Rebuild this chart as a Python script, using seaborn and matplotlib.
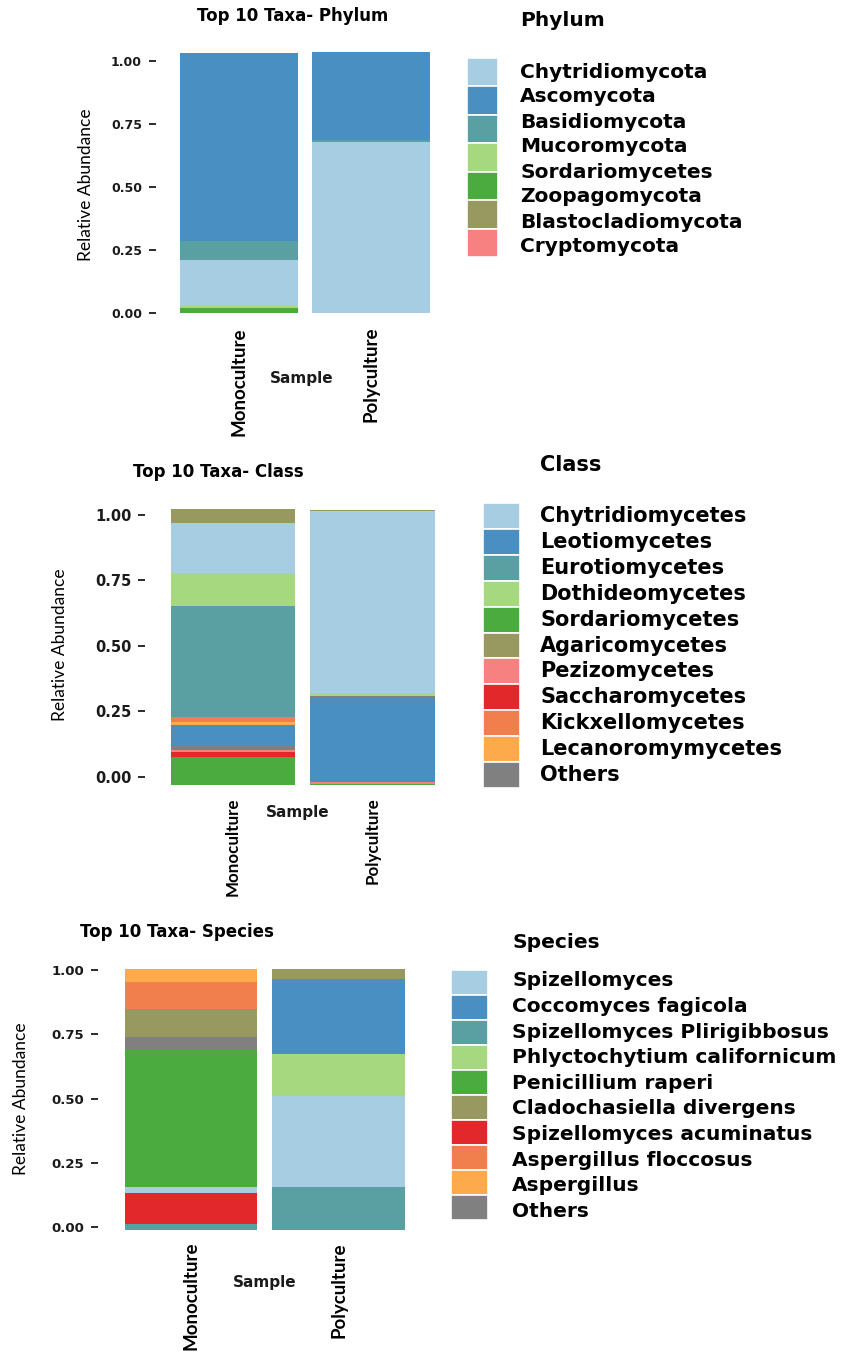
import matplotlib
matplotlib.use("Agg")
import matplotlib.pyplot as plt
import seaborn as sns
import numpy as np
import pandas as pd
from matplotlib.patches import Rectangle
from matplotlib import font_manager as fm

# ---------------- DATA ----------------
SAMPLES = ["Monoculture", "Polyculture"]

# Phylum (stack order bottom -> top)
PHYLUM_MONO_TAXA = ["Zoopagomycota", "Mucoromycota", "Chytridiomycota", "Basidiomycota", "Ascomycota"]
PHYLUM_MONO_VALUES = [0.018, 0.009, 0.183, 0.075, 0.747]
PHYLUM_POLY_TAXA = ["Chytridiomycota", "Basidiomycota", "Ascomycota"]
PHYLUM_POLY_VALUES = [0.680, 0.006, 0.349]
PHYLUM_LEGEND_LABELS = ["Chytridiomycota", "Ascomycota", "Basidiomycota", "Mucoromycota",
                        "Sordariomycetes", "Zoopagomycota", "Blastocladiomycota", "Cryptomycota"]
PHYLUM_SWATCH_TAXA = ["Chytridiomycota", "Ascomycota", "Basidiomycota", "Mucoromycota",
                      "Zoopagomycota", "Blastocladiomycota", "Cryptomycota"]

# Class
CLASS_TAXA = ["Chytridiomycetes", "Leotiomycetes", "Eurotiomycetes", "Dothideomycetes",
              "Sordariomycetes", "Agaricomycetes", "Pezizomycetes", "Saccharomycetes",
              "Kickxellomycetes", "Lecanoromymycetes", "Others"]
CLASS_MONO_TAXA = ["Sordariomycetes", "Saccharomycetes", "Pezizomycetes", "Others", "Leotiomycetes",
                   "Lecanoromymycetes", "Kickxellomycetes", "Eurotiomycetes", "Dothideomycetes",
                   "Chytridiomycetes", "Agaricomycetes"]
CLASS_MONO_VALUES = [0.108, 0.017, 0.009, 0.019, 0.076, 0.013, 0.017, 0.425, 0.125, 0.194, 0.051]
CLASS_POLY_TAXA = ["Sordariomycetes", "Pezizomycetes", "Leotiomycetes", "Others",
                   "Dothideomycetes", "Chytridiomycetes", "Agaricomycetes"]
CLASS_POLY_VALUES = [0.003, 0.007, 0.321, 0.009, 0.010, 0.697, 0.006]

# Species
SPECIES_TAXA = ["Spizellomyces", "Coccomyces fagicola", "Spizellomyces Plirigibbosus",
                "Phlyctochytium californicum", "Penicillium raperi", "Cladochasiella divergens",
                "Spizellomyces acuminatus", "Aspergillus floccosus", "Aspergillus", "Others"]
SPECIES_MONO_TAXA = ["Spizellomyces Plirigibbosus", "Spizellomyces acuminatus", "Spizellomyces",
                     "Penicillium raperi", "Others", "Cladochasiella divergens",
                     "Aspergillus floccosus", "Aspergillus"]
SPECIES_MONO_VALUES = [0.023, 0.122, 0.023, 0.531, 0.052, 0.106, 0.105, 0.050]
SPECIES_POLY_TAXA = ["Spizellomyces Plirigibbosus", "Spizellomyces", "Phlyctochytium californicum",
                     "Coccomyces fagicola", "Cladochasiella divergens"]
SPECIES_POLY_VALUES = [0.165, 0.354, 0.165, 0.291, 0.039]

YTICKS = [0.0, 0.25, 0.50, 0.75, 1.00]
YTICK_LABELS = ["0.00", "0.25", "0.50", "0.75", "1.00"]

# ---------------- STYLE ----------------
LB, BL, TE, LG, GR = "#a6cde2", "#4a8fc2", "#5a9fa1", "#a6d880", "#4cab3e"
OL, PK, RD, OR, LO, GY = "#979960", "#f78180", "#e3282b", "#f17f4d", "#fdaa4c", "#808080"

PHYLUM_COLORS = {"Chytridiomycota": LB, "Ascomycota": BL, "Basidiomycota": TE, "Mucoromycota": LG,
                 "Zoopagomycota": GR, "Blastocladiomycota": OL, "Cryptomycota": PK}
CLASS_COLORS = dict(zip(CLASS_TAXA, [LB, BL, TE, LG, GR, OL, PK, RD, OR, LO, GY]))
SPECIES_COLORS = dict(zip(SPECIES_TAXA, [LB, BL, TE, LG, GR, OL, RD, OR, LO, GY]))

sns.set_theme(style="white")
plt.rcParams["font.family"] = ["DejaVu Sans"]

names = {f.name for f in fm.fontManager.ttflist}
if "Liberation Sans Narrow" in names:
    NARROW = "Liberation Sans Narrow"
    YLAB_FS, XT_FS = 14, 15.5
else:
    NARROW = "Lato"
    YLAB_FS, XT_FS = 12.5, 13.5

W, H = 848, 1354
fig = plt.figure(figsize=(W / 100, H / 100), dpi=100)
ov = fig.add_axes([0, 0, 1, 1], zorder=-1)
ov.set_xlim(0, W)
ov.set_ylim(H, 0)
ov.axis("off")

XPAD = 0.63


def make_axes(c0, c1, p0, p1, ylim):
    s = c1 - c0
    left, right = c0 - XPAD * s, c1 + XPAD * s
    u = p0 - p1
    bottom = p0 - ylim[0] * u
    top = p0 - ylim[1] * u
    ax = fig.add_axes([left / W, 1 - bottom / H, (right - left) / W, (bottom - top) / H])
    return ax, (left, top, right, bottom)


def panel(cfg, stacks, colors):
    ax, (l, t, r, b) = make_axes(cfg["c0"], cfg["c1"], cfg["p0"], cfg["p1"], cfg["ylim"])
    for sample, (taxa, vals) in zip(SAMPLES, stacks):
        bottom = cfg["baseline"]
        for tx, v in zip(taxa, vals):
            sns.barplot(x=[sample], y=[v], order=SAMPLES, color=colors[tx], saturation=1,
                        width=cfg["width"], bottom=bottom, ax=ax, linewidth=0, errorbar=None)
            bottom += v
    ax.set_xlim(-XPAD, 1 + XPAD)
    ax.set_ylim(*cfg["ylim"])
    for sp in ax.spines.values():
        sp.set_visible(False)
    ax.set_yticks(YTICKS)
    ax.set_yticklabels(YTICK_LABELS, fontweight="bold", fontsize=cfg["tick_fs"], color="#1a1a1a")
    ax.tick_params(axis="y", length=5, width=1.3, color="#1a1a1a", pad=5, left=True)
    ax.set_xticks([0, 1])
    ax.set_xticklabels(SAMPLES, rotation=90, family=[NARROW, "DejaVu Sans"],
                       fontweight="bold", fontsize=cfg["xt_fs"], color="black")
    ax.tick_params(axis="x", length=0, pad=(cfg["xt_top"] - b) * 0.72)
    fx = lambda px: (px - l) / (r - l)
    fy = lambda py: (b - py) / (b - t)
    ax.set_ylabel("Relative Abundance", family=[NARROW, "DejaVu Sans"], fontsize=YLAB_FS,
                  color="black", va="center")
    ax.yaxis.set_label_coords(fx(cfg["ylab"][0]), fy(cfg["ylab"][1]))
    ax.set_xlabel("Sample", fontweight="bold", fontsize=11, color="#1a1a1a", va="center")
    ax.xaxis.set_label_coords(fx(cfg["samp"][0]), fy(cfg["samp"][1]))
    ax.set_title(cfg["title"], fontweight="bold", fontsize=12, color="black", pad=0,
                 x=fx(cfg["title_xy"][0]), y=fy(cfg["title_xy"][1]), va="center")
    return ax


def legend(title, title_xy, labels, label_x, label_y0, label_dy, swatch_colors,
           sw_x0, sw_x1, sw_y0, sw_y1, fs):
    ov.text(title_xy[0], title_xy[1], title, fontweight="bold", fontsize=fs,
            ha="left", va="center", color="black")
    n = len(swatch_colors)
    h = (sw_y1 - sw_y0) / n
    for i, c in enumerate(swatch_colors):
        ov.add_patch(Rectangle((sw_x0, sw_y0 + i * h), sw_x1 - sw_x0, h, facecolor=c,
                               edgecolor="white", linewidth=1.2))
    for i, lab in enumerate(labels):
        ov.text(label_x, label_y0 + i * label_dy, lab, fontweight="bold", fontsize=fs,
                ha="left", va="center", color="black")


# ---------------- PANELS ----------------
PH_CFG = dict(c0=239, c1=371, p0=313, p1=61, ylim=(-0.04, 1.09), baseline=0.0, width=0.9,
              tick_fs=9, xt_fs=XT_FS, xt_top=327, ylab=(86, 185), samp=(302, 379),
              title="Top 10 Taxa- Phylum", title_xy=(293, 16))
CL_CFG = dict(c0=233, c1=372.5, p0=776.7, p1=515, ylim=(-0.07, 1.075), baseline=-0.032, width=0.89,
              tick_fs=10.5, xt_fs=XT_FS * 0.9, xt_top=797, ylab=(60, 645), samp=(298, 812),
              title="Top 10 Taxa- Class", title_xy=(218, 472))
SP_CFG = dict(c0=191, c1=338.5, p0=1227.3, p1=970, ylim=(-0.045, 1.06), baseline=-0.01, width=0.9,
              tick_fs=9.5, xt_fs=XT_FS, xt_top=1242, ylab=(21, 1099), samp=(265, 1282),
              title="Top 10 Taxa- Species", title_xy=(177, 932))

panel(PH_CFG, [(PHYLUM_MONO_TAXA, PHYLUM_MONO_VALUES), (PHYLUM_POLY_TAXA, PHYLUM_POLY_VALUES)],
      PHYLUM_COLORS)
panel(CL_CFG, [(CLASS_MONO_TAXA, CLASS_MONO_VALUES), (CLASS_POLY_TAXA, CLASS_POLY_VALUES)],
      CLASS_COLORS)
panel(SP_CFG, [(SPECIES_MONO_TAXA, SPECIES_MONO_VALUES), (SPECIES_POLY_TAXA, SPECIES_POLY_VALUES)],
      SPECIES_COLORS)

legend("Phylum", (520, 20), PHYLUM_LEGEND_LABELS, 520, 72, 25,
       [PHYLUM_COLORS[t] for t in PHYLUM_SWATCH_TAXA], 467, 498, 58, 257, 14.5)
legend("Class", (540, 465), CLASS_TAXA, 540, 516, 25.9,
       [CLASS_COLORS[t] for t in CLASS_TAXA], 483, 520, 503, 788, 15)
legend("Species", (512, 942), SPECIES_TAXA, 512, 981, 25.6,
       [SPECIES_COLORS[t] for t in SPECIES_TAXA], 451, 488, 970, 1220, 14.5)

fig.savefig("out.png", dpi=100, facecolor="white")
